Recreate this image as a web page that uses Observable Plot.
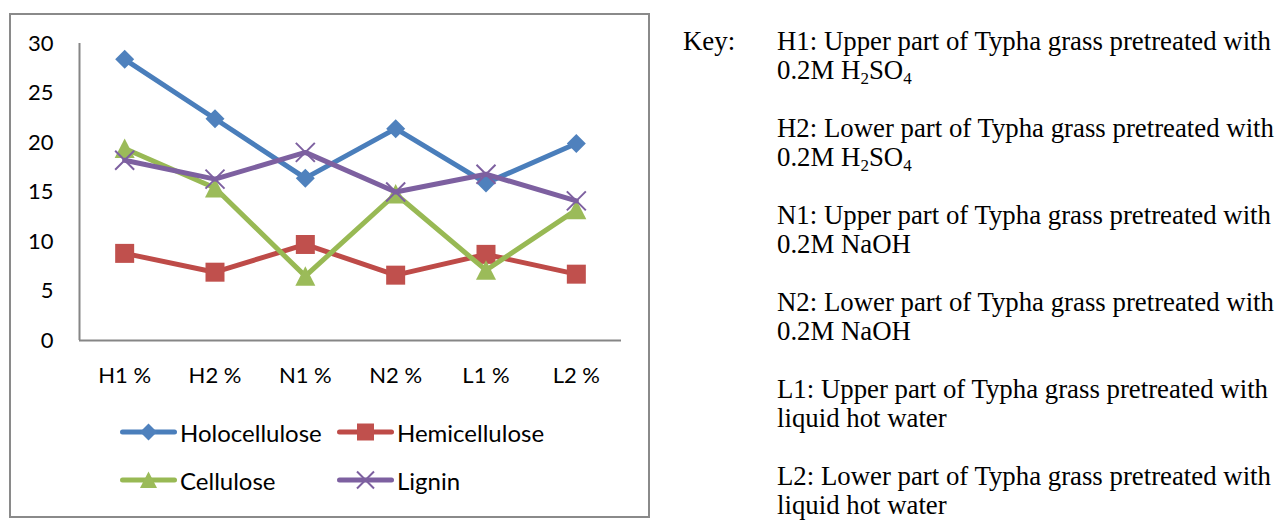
<!DOCTYPE html>
<html><head><meta charset="utf-8">
<script src="https://cdn.jsdelivr.net/npm/d3@7"></script>
<script src="https://cdn.jsdelivr.net/npm/@observablehq/plot@0.6"></script>
<style>
body{margin:0;background:#fff;width:1278px;height:523px;overflow:hidden;position:relative;}
#box{position:absolute;left:9px;top:13px;width:641px;height:505px;border:2px solid #8a8a8a;box-sizing:border-box;}
#chart{position:absolute;left:0;top:0;}
#legend{position:absolute;left:0;top:0;font-family:Lato,sans-serif;font-size:24px;color:#000;}
.lg{position:absolute;display:flex;align-items:center;white-space:nowrap;height:24px;}
.lg svg{display:block;margin-right:3px;}
.key{position:absolute;font-family:"Liberation Serif",serif;font-size:26.8px;line-height:29px;color:#000;white-space:nowrap;}
.key sub{font-size:17px;vertical-align:-5px;line-height:0;}
</style></head><body>
<div id="box"></div><div id="chart"></div><div id="legend"></div><div id="key"></div>
<script>
const categories = ["H1 %", "H2 %", "N1 %", "N2 %", "L1 %", "L2 %"];
const holocellulose = [28.4, 22.4, 16.4, 21.4, 15.9, 19.9];
const hemicellulose = [8.8, 6.9, 9.7, 6.6, 8.7, 6.7];
const cellulose = [19.4, 15.4, 6.5, 14.8, 7.1, 13.2];
const lignin = [18.2, 16.3, 19.0, 15.0, 16.8, 14.1];
const seriesNames = ["Holocellulose", "Hemicellulose", "Cellulose", "Lignin"];
const seriesValues = [holocellulose, hemicellulose, cellulose, lignin];
const lineColors = ["#4a7ebb", "#be4b48", "#98b954", "#7d60a0"];
const markerColors = ["#4f81bd", "#c0504d", "#9bbb59", "#7d60a0"];
const yTicks = [0, 5, 10, 15, 20, 25, 30];
const keyLabel = "Key:";
const keyItems = [
  ["H1: Upper part of Typha grass pretreated with", "0.2M H<sub>2</sub>SO<sub>4</sub>"],
  ["H2: Lower part of Typha grass pretreated with", "0.2M H<sub>2</sub>SO<sub>4</sub>"],
  ["N1: Upper part of Typha grass pretreated with", "0.2M NaOH"],
  ["N2: Lower part of Typha grass pretreated with", "0.2M NaOH"],
  ["L1: Upper part of Typha grass pretreated with", "liquid hot water"],
  ["L2: Lower part of Typha grass pretreated with", "liquid hot water"]
];

// custom marker symbols
const rad = size => Math.sqrt(size / Math.PI);
const symDiamond = {draw(c, s){const r = rad(s); c.moveTo(0,-r); c.lineTo(r,0); c.lineTo(0,r); c.lineTo(-r,0); c.closePath();}};
const symSquare = {draw(c, s){const r = rad(s); c.rect(-r,-r,2*r,2*r);}};
const symTriangle = {draw(c, s){const r = rad(s); c.moveTo(0,-r); c.lineTo(r,r*0.95); c.lineTo(-r,r*0.95); c.closePath();}};
const symTimes = {draw(c, s){const r = rad(s); c.moveTo(-r,-r); c.lineTo(r,r); c.moveTo(r,-r); c.lineTo(-r,r);}};
const symbols = [symDiamond, symSquare, symTriangle, symTimes];
const symR = [9.5, 9.5, 10, 9.5];
const symFilled = [true, true, true, false];

const rows = seriesNames.flatMap((name, s) =>
  categories.map((cat, i) => ({series: name, s, i, cat, value: seriesValues[s][i]})));

const marks = [
  Plot.ruleY([0], {stroke: "#868686", strokeWidth: 2}),
  Plot.ruleX([-0.5], {stroke: "#868686", strokeWidth: 2}),
  Plot.axisY(yTicks, {tickSize: 0, tickPadding: 26, label: null}),
  Plot.axisX(categories.map((c, i) => i), {tickSize: 0, tickPadding: 27, label: null, tickFormat: i => categories[i]})
];
seriesNames.forEach((name, s) => {
  const d = rows.filter(r => r.s === s);
  marks.push(Plot.line(d, {x: "i", y: "value", stroke: lineColors[s], strokeWidth: 5, strokeLinejoin: "round", strokeLinecap: "round"}));
  marks.push(Plot.dot(d, symFilled[s]
    ? {x: "i", y: "value", symbol: symbols[s], r: symR[s], fill: markerColors[s], stroke: "none"}
    : {x: "i", y: "value", symbol: symbols[s], r: symR[s], fill: "none", stroke: markerColors[s], strokeWidth: 2}));
});

const chart = Plot.plot({
  width: 660, height: 420,
  marginLeft: 79, marginRight: 39, marginTop: 43, marginBottom: 80,
  style: {background: "transparent", fontFamily: "Lato, sans-serif", fontSize: "22px", color: "#000", overflow: "visible"},
  x: {type: "linear", domain: [-0.5, categories.length - 0.5]},
  y: {domain: [0, 30]},
  marks
});
document.getElementById("chart").appendChild(chart);

// legend
const legend = d3.select("#legend");
const legPos = [[120, 432], [337, 432], [120, 480], [337, 480]];
seriesNames.forEach((name, s) => {
  const item = legend.append("div").attr("class", "lg")
    .style("left", legPos[s][0] + "px").style("top", (legPos[s][1] - 12) + "px");
  const svg = item.append("svg").attr("width", 57).attr("height", 24);
  svg.append("line").attr("x1", 2.5).attr("x2", 54.5).attr("y1", 12).attr("y2", 12)
    .attr("stroke", lineColors[s]).attr("stroke-width", 5).attr("stroke-linecap", "round");
  const p = svg.append("path").attr("transform", "translate(28.5,12)")
    .attr("d", d3.symbol(symbols[s], Math.PI * 8.5 * 8.5)());
  if (symFilled[s]) p.attr("fill", markerColors[s]);
  else p.attr("fill", "none").attr("stroke", markerColors[s]).attr("stroke-width", 2);
  item.append("span").text(name);
});

// key text
const key = d3.select("#key");
key.append("div").attr("class", "key").style("left", "683px").style("top", "27px").text(keyLabel);
keyItems.forEach((lines, k) => {
  key.append("div").attr("class", "key").style("left", "777px").style("top", (27 + 87 * k) + "px")
    .html(lines[0] + "<br>" + lines[1]);
});
</script>
</body></html>
